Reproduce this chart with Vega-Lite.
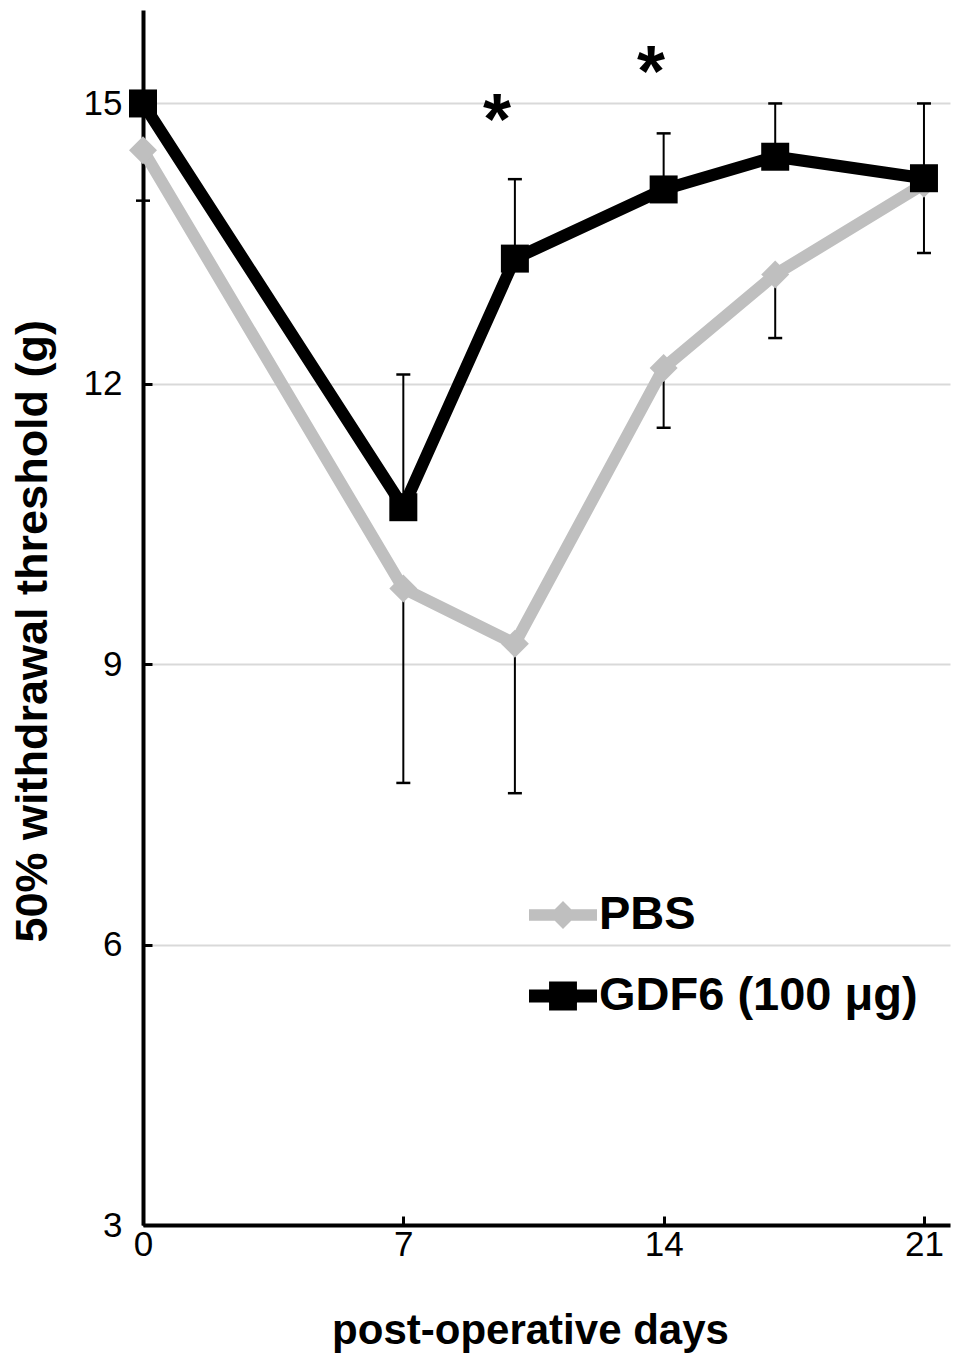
{
  "$schema": "https://vega.github.io/schema/vega-lite/v6.json",
  "width": 807,
  "height": 1215,
  "autosize": {"type": "none"},
  "padding": {"left": 143, "top": 10, "right": 3, "bottom": 130},
  "background": "white",
  "config": {
    "view": {"stroke": null},
    "axis": {
      "domainColor": "black",
      "domainWidth": 4,
      "tickColor": "black",
      "tickWidth": 3,
      "tickSize": -9,
      "labelColor": "black",
      "labelFont": "Liberation Sans Narrow, Liberation Sans",
      "labelFontSize": 35,
      "labelFlush": false,
      "titleFont": "Liberation Sans",
      "titleFontWeight": "bold",
      "titleColor": "black"
    }
  },
  "datasets": {
    "series": [
      {"day": 0, "value": 14.5, "group": "PBS"},
      {"day": 7, "value": 9.81, "group": "PBS"},
      {"day": 10, "value": 9.22, "group": "PBS"},
      {"day": 14, "value": 12.17, "group": "PBS"},
      {"day": 17, "value": 13.17, "group": "PBS"},
      {"day": 21, "value": 14.14, "group": "PBS"},
      {"day": 0, "value": 15.0, "group": "GDF6 (100 μg)"},
      {"day": 7, "value": 10.68, "group": "GDF6 (100 μg)"},
      {"day": 10, "value": 13.34, "group": "GDF6 (100 μg)"},
      {"day": 14, "value": 14.08, "group": "GDF6 (100 μg)"},
      {"day": 17, "value": 14.43, "group": "GDF6 (100 μg)"},
      {"day": 21, "value": 14.2, "group": "GDF6 (100 μg)"}
    ],
    "errors": [
      {"day": 0, "from": 14.5, "to": 13.96},
      {"day": 7, "from": 9.81, "to": 7.73},
      {"day": 10, "from": 9.22, "to": 7.62},
      {"day": 14, "from": 12.17, "to": 11.53},
      {"day": 17, "from": 13.17, "to": 12.49},
      {"day": 21, "from": 14.14, "to": 13.4},
      {"day": 7, "from": 10.68, "to": 12.1},
      {"day": 10, "from": 13.34, "to": 14.19},
      {"day": 14, "from": 14.08, "to": 14.68},
      {"day": 17, "from": 14.43, "to": 15.0},
      {"day": 21, "from": 14.2, "to": 15.0}
    ],
    "stars": [
      {"day": 9.52, "value": 14.95, "label": "*"},
      {"day": 13.66, "value": 15.46, "label": "*"}
    ]
  },
  "layer": [
    {
      "data": {"name": "errors"},
      "mark": {"type": "rule", "color": "black", "strokeWidth": 2},
      "encoding": {
        "x": {
          "field": "day", "type": "quantitative",
          "scale": {"domain": [0, 21.7], "nice": false, "zero": false},
          "axis": {
            "values": [0, 7, 14, 21],
            "format": "d",
            "grid": false,
            "labelPadding": 11,
            "title": "post-operative days",
            "titleFontSize": 42,
            "titleX": 387,
            "titleY": 118,
            "titleAlign": "center",
            "titleBaseline": "alphabetic",
            "titleAnchor": null
          }
        },
        "y": {
          "field": "from", "type": "quantitative",
          "scale": {"domain": [3, 16], "nice": false, "zero": false},
          "axis": {
            "values": [3, 6, 9, 12, 15],
            "format": "d",
            "grid": true,
            "gridColor": "#d9d9d9",
            "gridWidth": 2,
            "labelPadding": 30,
            "title": "50% withdrawal threshold (g)",
            "titleFontSize": 45,
            "titleAngle": -90,
            "titleX": -97,
            "titleY": 932,
            "titleAlign": "left",
            "titleBaseline": "alphabetic",
            "titleAnchor": null
          }
        },
        "y2": {"field": "to"}
      }
    },
    {
      "data": {"name": "errors"},
      "mark": {"type": "point", "shape": "stroke", "filled": false, "color": "black", "strokeWidth": 2.5, "size": 196, "opacity": 1},
      "encoding": {
        "x": {"field": "day", "type": "quantitative"},
        "y": {"field": "to", "type": "quantitative"}
      }
    },
    {
      "data": {"name": "series"},
      "transform": [{"filter": "datum.group === 'PBS'"}],
      "mark": {"type": "line", "strokeWidth": 12, "strokeJoin": "miter"},
      "encoding": {
        "x": {"field": "day", "type": "quantitative"},
        "y": {"field": "value", "type": "quantitative"},
        "color": {
          "field": "group", "type": "nominal",
          "scale": {"domain": ["PBS", "GDF6 (100 μg)"], "range": ["#bfbfbf", "#000000"]},
          "legend": {
            "title": null,
            "orient": "none",
            "legendX": 386,
            "legendY": 871,
            "padding": 0,
            "offset": 0,
            "symbolSize": 4624,
            "symbolStrokeWidth": 0,
            "labelFont": "Liberation Sans",
            "labelFontWeight": "bold",
            "labelFontSize": 47,
            "labelColor": "black",
            "labelOffset": 2,
            "labelLimit": 0,
            "rowPadding": 24,
            "encode": {
              "symbols": {
                "update": {
                  "shape": {"signal": "datum.value === 'PBS' ? 'M-1,-0.17H1V0.17H-1Z M0,-0.41L0.41,0L0,0.41L-0.41,0Z' : 'M-1,-0.19H1V0.19H-1Z M-0.41,-0.43H0.41V0.43H-0.41Z'"},
                  "fill": {"signal": "datum.value === 'PBS' ? '#bfbfbf' : '#000000'"},
                  "stroke": {"value": "transparent"},
                  "strokeWidth": {"value": 0},
                  "opacity": {"value": 1}
                }
              }
            }
          }
        }
      }
    },
    {
      "data": {"name": "series"},
      "transform": [{"filter": "datum.group === 'PBS'"}],
      "mark": {"type": "point", "shape": "diamond", "filled": true, "size": 784, "opacity": 1},
      "encoding": {
        "x": {"field": "day", "type": "quantitative"},
        "y": {"field": "value", "type": "quantitative"},
        "color": {"field": "group", "type": "nominal"}
      }
    },
    {
      "data": {"name": "series"},
      "transform": [{"filter": "datum.group !== 'PBS'"}],
      "mark": {"type": "line", "strokeWidth": 12, "strokeJoin": "miter"},
      "encoding": {
        "x": {"field": "day", "type": "quantitative"},
        "y": {"field": "value", "type": "quantitative"},
        "color": {"field": "group", "type": "nominal"}
      }
    },
    {
      "data": {"name": "series"},
      "transform": [{"filter": "datum.group !== 'PBS'"}],
      "mark": {"type": "point", "shape": "square", "filled": true, "size": 784, "opacity": 1},
      "encoding": {
        "x": {"field": "day", "type": "quantitative"},
        "y": {"field": "value", "type": "quantitative"},
        "color": {"field": "group", "type": "nominal"}
      }
    },
    {
      "data": {"name": "stars"},
      "mark": {"type": "text", "font": "Liberation Sans", "fontWeight": "bold", "fontSize": 72, "baseline": "middle", "align": "center", "dy": 14, "color": "black"},
      "encoding": {
        "x": {"field": "day", "type": "quantitative"},
        "y": {"field": "value", "type": "quantitative"},
        "text": {"field": "label"}
      }
    }
  ]
}
